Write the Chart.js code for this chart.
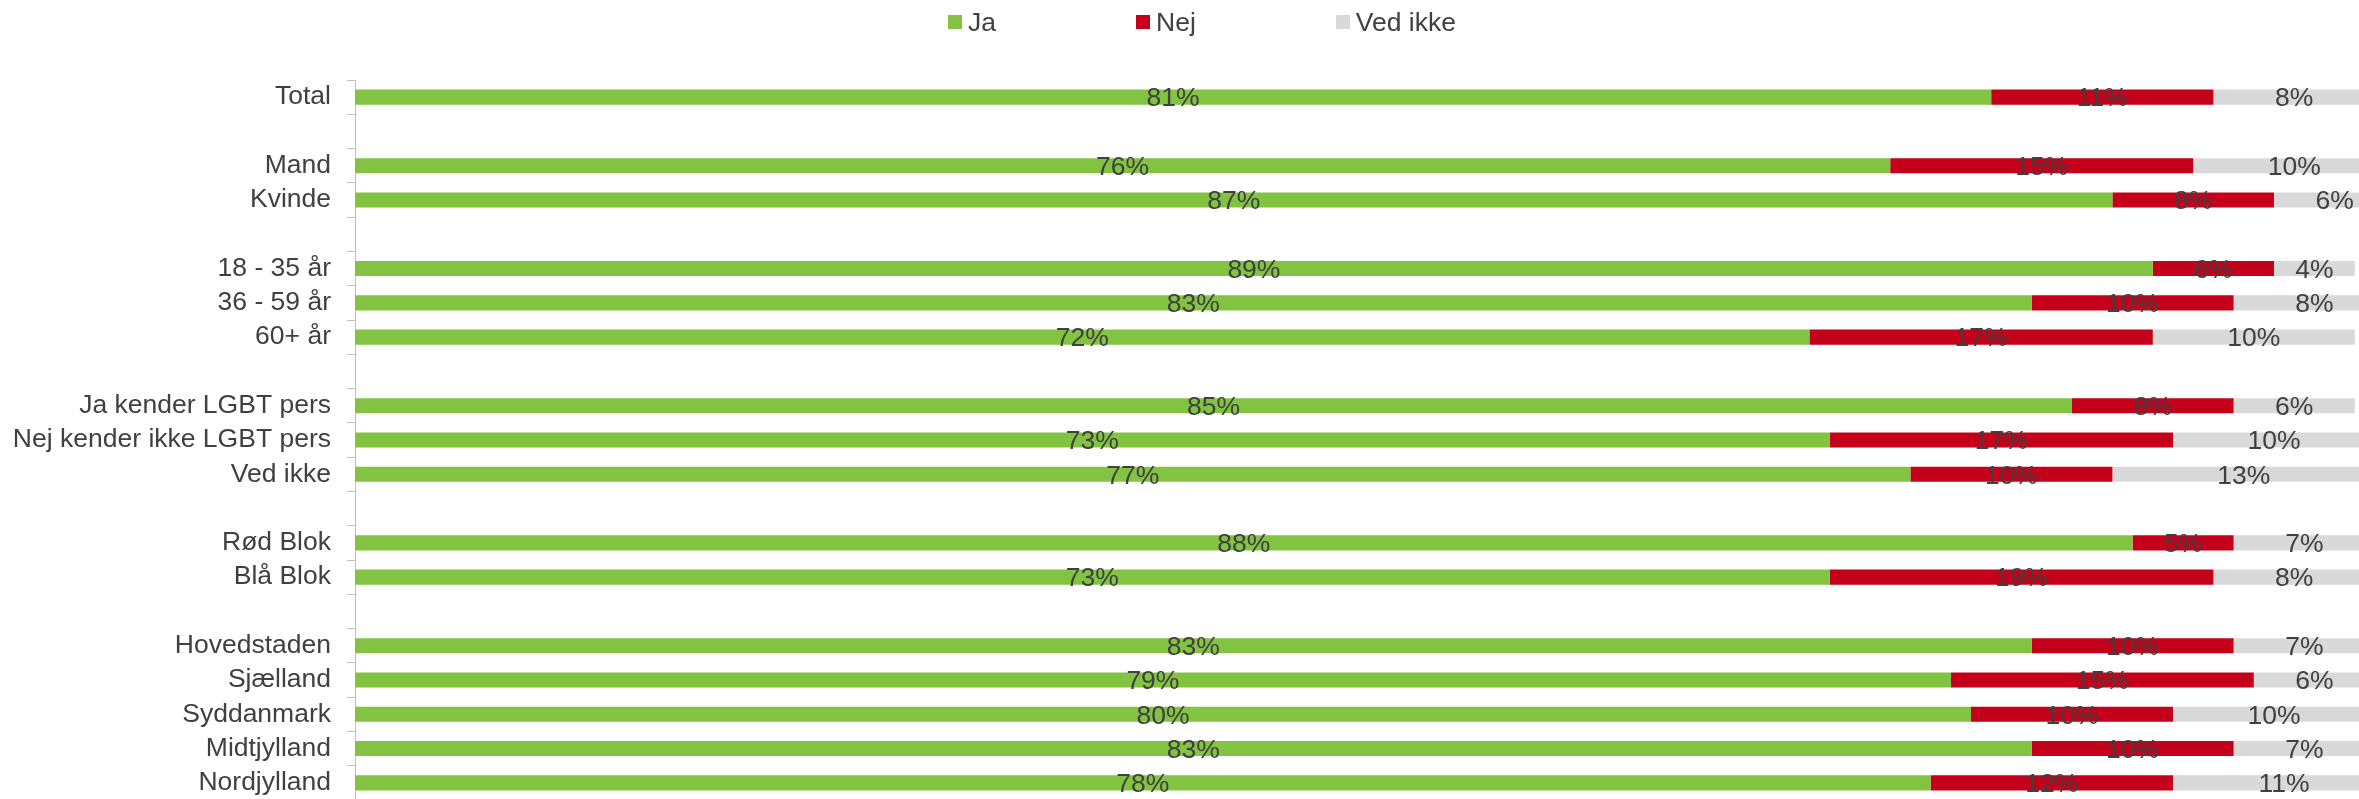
<!DOCTYPE html>
<html lang="da">
<head>
<meta charset="utf-8">
<title>Ja / Nej / Ved ikke</title>
<script src="https://cdn.jsdelivr.net/npm/chart.js@4.4.1/dist/chart.umd.min.js"></script>
<style>
  html, body { margin: 0; padding: 0; background: #fff; overflow: hidden; }
  body { font-family: 'Liberation Sans', Arial, sans-serif; color: #404040; }
  .wrap { position: relative; width: 2375px; height: 800px; }
  .legend { position: absolute; top: 8px; left: 948px; display: flex; gap: 140px; font-size: 26.5px; line-height: 28px; }
  .legend .item { display: flex; align-items: center; white-space: nowrap; }
  .legend .box { display: inline-block; width: 14px; height: 14px; margin-right: 6px; }
</style>
</head>
<body>
<div class="wrap">
  <div class="legend" id="legend"></div>
  <canvas id="chart"></canvas>
</div>
<script>
// categories (blank entries are the gaps between groups)
const categories = [
  'Total', '',
  'Mand', 'Kvinde', '',
  '18 - 35 år', '36 - 59 år', '60+ år', '',
  'Ja kender LGBT pers', 'Nej kender ikke LGBT pers', 'Ved ikke', '',
  'Rød Blok', 'Blå Blok', '',
  'Hovedstaden', 'Sjælland', 'Syddanmark', 'Midtjylland', 'Nordjylland'
];

const jaValues      = [81, null, 76, 87, null, 89, 83, 72, null, 85, 73, 77, null, 88, 73, null, 83, 79, 80, 83, 78];
const nejValues     = [11, null, 15,  8, null,  6, 10, 17, null,  8, 17, 10, null,  5, 19, null, 10, 15, 10, 10, 12];
const vedIkkeValues = [ 8, null, 10,  6, null,  4,  8, 10, null,  6, 10, 13, null,  7,  8, null,  7,  6, 10,  7, 11];

const seriesNames = ['Ja', 'Nej', 'Ved ikke'];
const seriesColors = ['#82c341', '#c4001a', '#d9d9d9'];

const TEXT = '#404040';
const FONT = "'Liberation Sans', Arial, sans-serif";
const FONT_SIZE = 26.5;

const datasets = [jaValues, nejValues, vedIkkeValues].map((vals, i) => ({
  label: seriesNames[i],
  data: vals,
  backgroundColor: seriesColors[i],
  borderWidth: 0,
  barPercentage: 0.44,
  categoryPercentage: 1,
}));

// percentage labels centred in every segment
const segmentLabels = {
  id: 'segmentLabels',
  afterDatasetsDraw(chart) {
    const ctx = chart.ctx;
    ctx.save();
    ctx.font = `${FONT_SIZE}px ${FONT}`;
    ctx.fillStyle = TEXT;
    ctx.textAlign = 'center';
    ctx.textBaseline = 'middle';
    chart.data.datasets.forEach((ds, di) => {
      chart.getDatasetMeta(di).data.forEach((bar, i) => {
        const v = ds.data[i];
        if (v == null) return;
        ctx.fillText(v + '%', (bar.x + bar.base) / 2, bar.y + 2);
      });
    });
    ctx.restore();
  }
};

const chart = new Chart(document.getElementById('chart'), {
  type: 'bar',
  data: { labels: categories, datasets },
  options: {
    indexAxis: 'y',
    responsive: true, maintainAspectRatio: false,
    animation: false,
    events: [],
    layout: { padding: { top: 80, left: 0, right: 0, bottom: 0 } },
    plugins: { legend: { display: false }, tooltip: { enabled: false } },
    scales: {
      x: { stacked: true, min: 0, max: 100, display: false },
      y: {
        stacked: true,
        offset: true,
        grid: { offset: true, drawOnChartArea: false, drawTicks: true, tickLength: 8, color: '#bfbfbf', lineWidth: 1 },
        border: { display: true, color: '#bfbfbf', width: 1 },
        ticks: { color: TEXT, padding: 16, font: { family: FONT, size: FONT_SIZE }, autoSkip: false },
        afterFit: scale => {
          scale.width = 355;
          scale.paddingTop = 0;
          scale.paddingBottom = 0;
        },
      },
    },
  },
  plugins: [segmentLabels],
});

// legend built from the datasets
document.getElementById('legend').innerHTML = chart.data.datasets.map(ds => `
  <span class="item"><span class="box" style="background:${ds.backgroundColor}"></span>${ds.label}</span>
`).join('');
</script>
</body>
</html>
